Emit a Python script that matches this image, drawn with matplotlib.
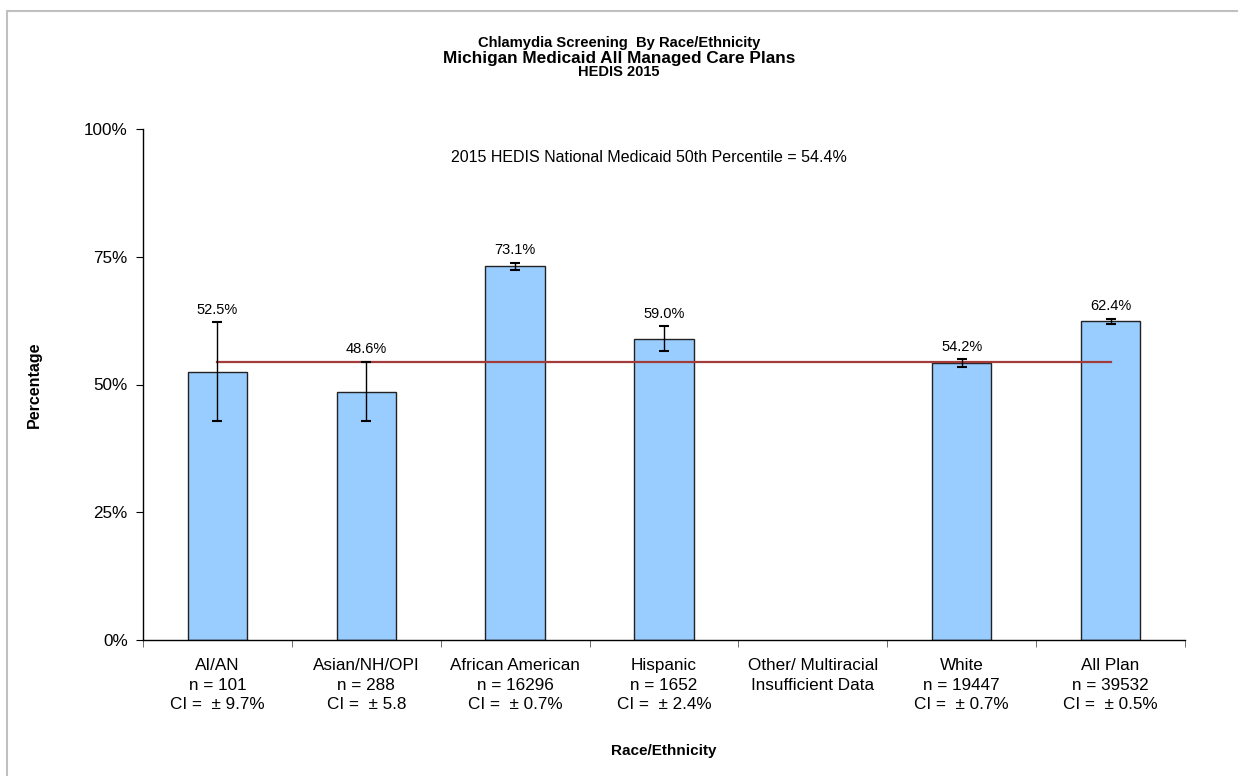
import matplotlib.pyplot as plt
from matplotlib.patches import Rectangle
from matplotlib.ticker import FixedLocator, PercentFormatter

plt.rcParams['font.family'] = ['Liberation Sans', 'DejaVu Sans']

# screening rates by group (percent) and their confidence intervals
groups = ["AI/AN", "Asian/NH/OPI", "African American", "Hispanic",
          "Other/ Multiracial", "White", "All Plan"]
rates = [52.5, 48.6, 73.1, 59.0, None, 54.2, 62.4]
ci = [9.7, 5.8, 0.7, 2.4, None, 0.7, 0.5]
tick_labels = ["AI/AN\nn = 101\nCI =  \u00b1 9.7%",
               "Asian/NH/OPI\nn = 288\nCI =  \u00b1 5.8",
               "African American\nn = 16296\nCI =  \u00b1 0.7%",
               "Hispanic\nn = 1652\nCI =  \u00b1 2.4%",
               "Other/ Multiracial\nInsufficient Data",
               "White\nn = 19447\nCI =  \u00b1 0.7%",
               "All Plan\nn = 39532\nCI =  \u00b1 0.5%"]
benchmark = 54.4

fig = plt.figure(figsize=(12.38, 7.76), dpi=100)
ax = fig.add_axes([143 / 1238, 1 - 640 / 776, 1042 / 1238, 511 / 776])

# frame around the chart area
fig.patches.append(Rectangle((7 / 1238, -0.1), 1.2, 1 - 11 / 776 + 0.1,
                             transform=fig.transFigure, fill=False,
                             edgecolor="#c0c0c0", linewidth=1.5))

xs = [i for i, r in enumerate(rates) if r is not None]
vals = [rates[i] for i in xs]
errs = [ci[i] for i in xs]

ax.bar(xs, vals, width=0.4, color="#99ccff", edgecolor="#222222",
       linewidth=1.0, zorder=2)
ax.errorbar(xs, vals, yerr=errs, fmt="none", ecolor="black",
            elinewidth=1.0, capsize=3.5, capthick=1.5, zorder=4)

for x, v, e in zip(xs, vals, errs):
    ax.annotate(f"{v:.1f}%", (x, v + e), xytext=(0, 4),
                textcoords="offset points", ha="center", va="bottom",
                fontsize=10.5)

# national 50th percentile line from the first to the last bar
ax.plot([xs[0], xs[-1]], [benchmark, benchmark], color="#a33b3b",
        linewidth=1.6, zorder=3)
ax.text(2.9, 94.5, f"2015 HEDIS National Medicaid 50th Percentile = {benchmark}%",
        ha="center", va="center", fontsize=11.5)

ax.set_xlim(-0.5, len(groups) - 0.5)
ax.set_ylim(0, 100)
ax.set_yticks([0, 25, 50, 75, 100])
ax.yaxis.set_major_formatter(PercentFormatter(decimals=0))
ax.tick_params(axis="y", labelsize=12.3, length=5, direction="out", pad=6)

ax.set_xticks(range(len(groups)))
ax.set_xticklabels(tick_labels, fontsize=12.3, linespacing=1.38,
                   va="top")
ax.tick_params(axis="x", which="major", length=0, pad=13)
ax.xaxis.set_minor_locator(FixedLocator([i - 0.5 for i in range(len(groups) + 1)]))
ax.tick_params(axis="x", which="minor", length=5, direction="out",
               color="#555555")

for side in ("top", "right"):
    ax.spines[side].set_visible(False)
ax.spines["left"].set_linewidth(1.0)
ax.spines["bottom"].set_linewidth(1.0)

ax.set_ylabel("Percentage", fontsize=11.5, fontweight="bold", labelpad=30)
ax.set_xlabel("Race/Ethnicity", fontsize=11, fontweight="bold", labelpad=23)

fig.text(0.5, 1 - 43 / 776, "Chlamydia Screening  By Race/Ethnicity",
         ha="center", va="center", fontsize=10.6, fontweight="bold")
fig.text(0.5, 1 - 58 / 776, "Michigan Medicaid All Managed Care Plans",
         ha="center", va="center", fontsize=12.4, fontweight="bold")
fig.text(0.5, 1 - 72.5 / 776, "HEDIS 2015",
         ha="center", va="center", fontsize=10.5, fontweight="bold")

fig.savefig("out.png", dpi=100)
